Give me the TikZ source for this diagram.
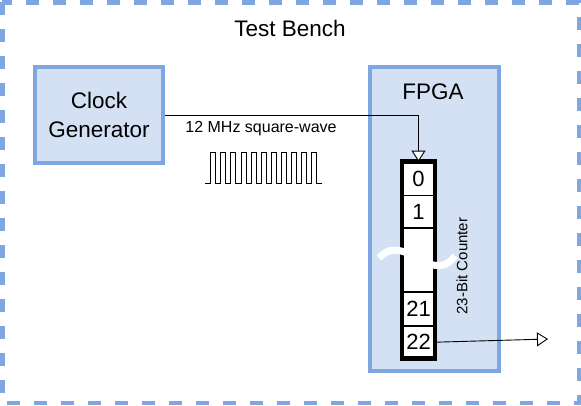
\documentclass[tikz,border=0pt]{standalone}
\usepackage{fontspec}
\setmainfont{Liberation Sans}
\usetikzlibrary{arrows.meta,positioning}
\definecolor{boxfill}{HTML}{D4E1F5}
\definecolor{boxline}{HTML}{7EA6E0}
\tikzset{
	block/.style={draw=boxline, fill=boxfill, line width=4pt, inner sep=0pt},
	cell/.style={draw=black, line width=0.8pt, minimum width=32.5pt, inner sep=0pt, font=\fontsize{22}{24}\selectfont},
	wire/.style={draw=black, line width=0.9pt},
	opentip/.style={-{Triangle[open, fill=white, width=14pt, length=11pt, line width=0.9pt]}}
}
\begin{document}
\begin{tikzpicture}[x=1pt, y=-1pt]
	\useasboundingbox (0,0) rectangle (581,405);
	% test bench
	\draw[boxline, line width=4.5pt, dash pattern=on 13pt off 14pt] (2.25,2.25) rectangle (578.75,402.75);
	\node[font=\fontsize{22.5}{24}\selectfont] (bench) at (290,28) {Test Bench};
	
	% clock generator
	\node[block, minimum width=128pt, minimum height=96pt, align=center,
		font=\fontsize{22.5}{29}\selectfont] (clk) at (99,115) {Clock\\Generator};
	\node[font=\fontsize{16}{18}\selectfont] (freq) at (261,129) {12 MHz square-wave};
	\draw[line width=0.9pt] (205,183) -- (210.7,183)
		foreach \i in {0,...,10} { -- ++(0,-31) -- ++(5,0) -- ++(0,31) -- ++(5.1,0) };
	
	% fpga
	\node[block, minimum width=129pt, minimum height=303.5pt] (fpga) at (434.5,218.75) {};
	\node[font=\fontsize{22.5}{24}\selectfont] (fpgatxt) at (433,91.5) {FPGA};
	
	% counter
	\node[cell, fill=white, minimum height=33pt] (c0) at (418.5,178.5) {0};
	\node[cell, fill=white, minimum height=32pt, below=0pt of c0] (c1) {1};
	\node[cell, fill=white, minimum height=63pt, below=0pt of c1] (cdots) {};
	\node[cell, fill=white, minimum height=33pt, below=0pt of cdots] (c21) {21};
	\node[cell, fill=white, minimum height=32pt, below=0pt of c21] (c22) {22};
	\draw[black, line width=4.5pt] (c0.north west) rectangle (c22.south east);
	\draw[white, line width=7pt] (379,258) .. controls (388,248) and (398,247) .. (417,258)
		.. controls (436,269) and (446,268) .. (455,256);
	\node[rotate=90, font=\fontsize{15}{18}\selectfont] (cnt) at (462,266) {23-Bit Counter};
	
	% wires
	\coordinate (out) at (548,339);
	\draw[wire, opentip] (clk.east) -| (c0.north);
	\draw[wire, opentip] (c22.east) -- (out);
\end{tikzpicture}
\end{document}
